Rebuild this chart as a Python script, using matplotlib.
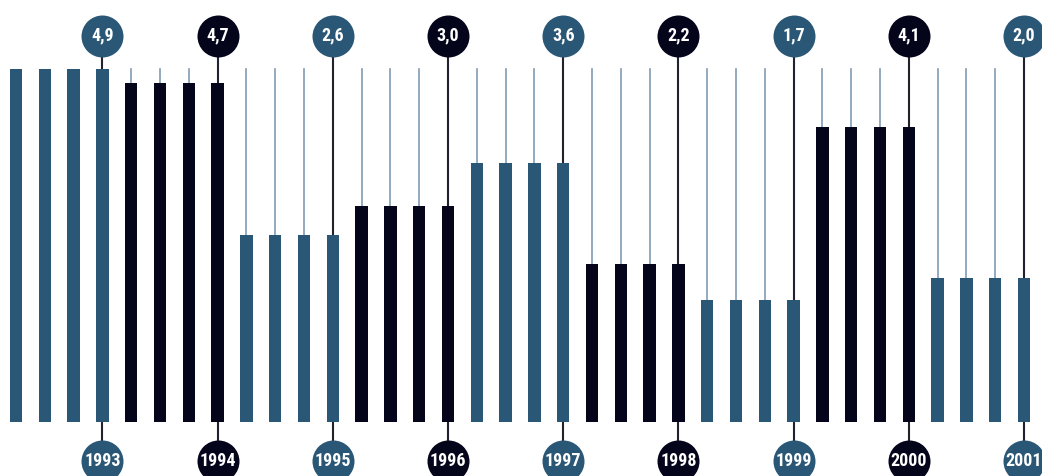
import matplotlib
matplotlib.use("Agg")
import matplotlib.pyplot as plt
import numpy as np

years = ["1993", "1994", "1995", "1996", "1997", "1998", "1999", "2000", "2001"]
values = [4.9, 4.7, 2.6, 3.0, 3.6, 2.2, 1.7, 4.1, 2.0]
labels = ["4,9", "4,7", "2,6", "3,0", "3,6", "2,2", "1,7", "4,1", "2,0"]
bars_per_year = 4

BLUE = "#2b5776"
DARK = "#04041a"
THIN = "#7f9bb4"
STEM = "#22222e"

W, H = 1042, 476
fig = plt.figure(figsize=(W / 100, H / 100), dpi=100)
ax = fig.add_axes([0, 0, 1, 1])
ax.axis("off")

step = 28.8
x0 = 16
ppu = 72.04
base = 422
ax.set_xlim(-x0 / step, (W - x0) / step)
ax.set_ylim((base - H) / ppu, base / ppu)

vmax = max(values)
top_c = (base - 35.5) / ppu
bot_c = (base - 461) / ppu
bw = 12.5 / step
font = ["Roboto Condensed", "Open Sans Condensed", "DejaVu Sans"]

for g, (yr, v, lab) in enumerate(zip(years, values, labels)):
    col = BLUE if g % 2 == 0 else DARK
    idx = np.arange(g * bars_per_year, (g + 1) * bars_per_year)
    ax.bar(idx, [v] * bars_per_year, width=bw, color=col, zorder=2)
    for i in idx[:-1]:
        if v < vmax:
            ax.plot([i, i], [v, vmax], color=THIN, lw=1.2, zorder=1)
    s = idx[-1]
    ax.plot([s, s], [v, top_c], color=STEM, lw=1.5, zorder=1)
    ax.plot([s, s], [0, bot_c], color=STEM, lw=1.5, zorder=1)
    ax.scatter([s], [top_c], s=(42 * 0.72) ** 2, color=col, zorder=3, linewidths=0)
    ax.scatter([s], [bot_c], s=(42 * 0.72) ** 2, color=col, zorder=3, linewidths=0)
    ax.text(s, top_c, lab, color="white", ha="center", va="center",
            fontsize=13, fontweight="bold", fontstretch="condensed",
            family=font, zorder=4)
    ax.text(s, bot_c, yr, color="white", ha="center", va="center",
            fontsize=13, fontweight="bold", fontstretch="condensed",
            family=font, zorder=4)

fig.savefig("out.png", dpi=100)
